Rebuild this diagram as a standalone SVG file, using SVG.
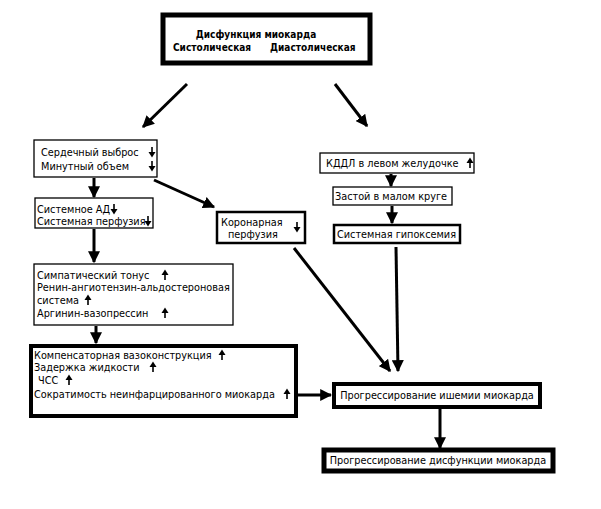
<svg xmlns="http://www.w3.org/2000/svg" width="601" height="509" viewBox="0 0 601 509">
<defs>
<style>
text{font-family:"DejaVu Sans Condensed","DejaVu Sans","Liberation Sans",sans-serif;font-stretch:condensed;font-size:10.8px;fill:#000}
.b{font-weight:bold;font-size:10px}
.thin{fill:#fff;stroke:#000;stroke-width:1.3}
.mid{fill:#fff;stroke:#000;stroke-width:2.5}
.thick{fill:#fff;stroke:#000;stroke-width:4}
.heavy{fill:#fff;stroke:#000;stroke-width:5}
.con{stroke:#000;stroke-width:3;fill:none}
</style>
<marker id="ah" viewBox="0 0 10 10" refX="9" refY="5" markerWidth="4" markerHeight="4" orient="auto" markerUnits="strokeWidth">
<path d="M0,0 L10,5 L0,10 z" fill="#000"/>
</marker>
<symbol id="dn" viewBox="-4 -6 8 12" width="8" height="12" overflow="visible">
<path d="M0,-5 V2" stroke="#000" stroke-width="1.6"/>
<path d="M-3.5,0 L3.5,0 L0,5.5 z" fill="#000"/>
</symbol>
<symbol id="up" viewBox="-4 -6 8 12" width="8" height="12" overflow="visible">
<path d="M0,5 V-2" stroke="#000" stroke-width="1.6"/>
<path d="M-3.5,0 L3.5,0 L0,-5.5 z" fill="#000"/>
</symbol>
</defs>

<g id="connectors">
<line class="con" x1="187" y1="84" x2="143" y2="127" marker-end="url(#ah)"/>
<line class="con" x1="335" y1="84" x2="367" y2="126" marker-end="url(#ah)"/>
<line class="con" x1="94" y1="178" x2="94" y2="197" marker-end="url(#ah)"/>
<line class="con" x1="154" y1="180" x2="214" y2="207" marker-end="url(#ah)"/>
<line class="con" x1="94" y1="229" x2="94" y2="262" marker-end="url(#ah)"/>
<line class="con" x1="96" y1="326" x2="96" y2="343" marker-end="url(#ah)"/>
<line class="con" x1="391" y1="174" x2="391" y2="186" marker-end="url(#ah)"/>
<line class="con" x1="392" y1="206" x2="392" y2="223" marker-end="url(#ah)"/>
<line class="con" x1="294" y1="248" x2="390" y2="371" marker-end="url(#ah)"/>
<line class="con" x1="396" y1="247" x2="398" y2="371" marker-end="url(#ah)"/>
<line class="con" x1="298" y1="395" x2="331" y2="395" marker-end="url(#ah)"/>
<line class="con" x1="440" y1="409" x2="440" y2="448" marker-end="url(#ah)"/>
</g>

<g id="n-top">
<rect class="heavy" x="163" y="15" width="207" height="48"/>
<text class="b" x="256" y="38" text-anchor="middle">Дисфункция миокарда</text>
<text class="b" x="173" y="51">Систолическая</text>
<text class="b" x="270" y="51">Диастолическая</text>
</g>

<g id="n-output">
<rect class="thin" x="34" y="140" width="123" height="37"/>
<text x="41" y="156">Сердечный выброс</text>
<text x="41" y="170">Минутный объем</text>
<use href="#dn" x="148" y="146"/>
<use href="#dn" x="148" y="160"/>
</g>

<g id="n-sysad">
<rect class="thin" x="35" y="198" width="118" height="30"/>
<text x="37" y="213">Системное АД</text>
<use href="#dn" x="110" y="203"/>
<text x="37" y="225">Системная перфузия</text>
<use href="#dn" x="144" y="215"/>
</g>

<g id="n-coronary">
<rect class="mid" x="217" y="212" width="88" height="31"/>
<text x="221" y="226">Коронарная</text>
<text x="228" y="238">перфузия</text>
<use href="#dn" x="293" y="221"/>
</g>

<g id="n-kddl">
<rect class="thin" x="320" y="153" width="154" height="20"/>
<text x="326" y="167">КДДЛ в левом желудочке</text>
<use href="#up" x="466" y="157"/>
</g>

<g id="n-zastoy">
<rect class="thin" x="333" y="187" width="119" height="18"/>
<text x="335" y="200">Застой в малом круге</text>
</g>

<g id="n-hypox">
<rect class="mid" x="334" y="225" width="126" height="18"/>
<text x="337" y="238">Системная гипоксемия</text>
</g>

<g id="n-symp">
<rect class="thin" x="34" y="264" width="199" height="61"/>
<text x="37" y="279">Симпатический  тонус</text>
<use href="#up" x="161" y="269"/>
<text x="37" y="291">Ренин-ангиотензин-альдостероновая</text>
<text x="37" y="304">система</text>
<use href="#up" x="84" y="294"/>
<text x="37" y="317">Аргинин-вазопрессин</text>
<use href="#up" x="161" y="307"/>
</g>

<g id="n-comp">
<rect class="thick" x="31" y="346" width="265" height="70"/>
<text x="34" y="359">Компенсаторная вазоконструкция</text>
<use href="#up" x="218" y="349"/>
<text x="34" y="371">Задержка жидкости</text>
<use href="#up" x="149" y="361"/>
<text x="38" y="384">ЧСС</text>
<use href="#up" x="65" y="374"/>
<text x="34" y="398">Сократимость неинфарцированного миокарда</text>
<use href="#up" x="283" y="388"/>
</g>

<g id="n-ischemia">
<rect class="thick" x="334" y="384" width="206" height="23"/>
<text x="437" y="399" text-anchor="middle">Прогрессирование ишемии миокарда</text>
</g>

<g id="n-dysf">
<rect class="heavy" x="324" y="450" width="229" height="21"/>
<text x="438" y="464" text-anchor="middle">Прогрессирование дисфункции миокарда</text>
</g>
</svg>
